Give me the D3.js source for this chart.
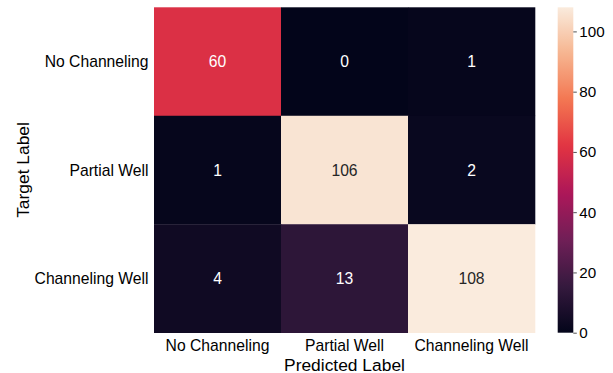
<!DOCTYPE html>
<html><head><meta charset="utf-8">
<script src="https://cdn.jsdelivr.net/npm/d3@7"></script>
<style>
html,body{margin:0;padding:0;background:#fff;}
text{font-family:"Liberation Sans",Arial,Helvetica,sans-serif;}
</style></head>
<body>
<svg id="chart" width="613" height="373"></svg>
<script>
const targetLabels = ["No Channeling", "Partial Well", "Channeling Well"];
const predictedLabels = ["No Channeling", "Partial Well", "Channeling Well"];
const rowNoChanneling = [60, 0, 1];
const rowPartialWell = [1, 106, 2];
const rowChannelingWell = [4, 13, 108];
const colorbarTicks = [0, 20, 40, 60, 80, 100];
const xTitle = "Predicted Label";
const yTitle = "Target Label";

const matrix = [rowNoChanneling, rowPartialWell, rowChannelingWell];
const cells = [];
matrix.forEach((row, i) => row.forEach((v, j) => cells.push({t: targetLabels[i], p: predictedLabels[j], v})));

// rocket colormap stops
const rocketStops = ["#03051a", "#35193e", "#701f57", "#ad1759", "#e13342", "#f37651", "#f6b48f", "#faebdd"];
const rocketPos = [0, 1/7, 2/7, 3/7, 4/7, 5/7, 6/7, 1];
const rocket = d3.scaleLinear().domain(rocketPos).range(rocketStops).interpolate(d3.interpolateRgb);

const vmin = 0, vmax = d3.max(cells, d => d.v);
const color = v => rocket((v - vmin) / (vmax - vmin));

const L = 154, R = 535, T = 7.3, B = 332.7;
const svg = d3.select("#chart");

const x = d3.scaleBand().domain(predictedLabels).range([L, R]);
const y = d3.scaleBand().domain(targetLabels).range([T, B]);

svg.append("g").selectAll("rect").data(cells).join("rect")
  .attr("x", d => x(d.p)).attr("y", d => y(d.t))
  .attr("width", x.bandwidth() + 0.3).attr("height", y.bandwidth() + 0.3)
  .attr("fill", d => color(d.v));

function lum(c) {
  const r = d3.rgb(c);
  const f = u => { u /= 255; return u <= 0.03928 ? u / 12.92 : Math.pow((u + 0.055) / 1.055, 2.4); };
  return 0.2126 * f(r.r) + 0.7152 * f(r.g) + 0.0722 * f(r.b);
}

svg.append("g").selectAll("text").data(cells).join("text")
  .attr("x", d => x(d.p) + x.bandwidth() / 2)
  .attr("y", d => y(d.t) + y.bandwidth() / 2)
  .attr("text-anchor", "middle").attr("dominant-baseline", "central")
  .attr("font-size", "15.7px")
  .attr("fill", d => lum(color(d.v)) > 0.408 ? "#262626" : "#ffffff")
  .text(d => d.v);

// x axis
const xAxis = svg.append("g").attr("transform", `translate(0,${B})`)
  .call(d3.axisBottom(x).tickSize(0).tickPadding(7));
xAxis.select(".domain").remove();
xAxis.selectAll("text").attr("font-size", "15.7px").attr("fill", "#000")
  .attr("font-family", "Liberation Sans, Arial, sans-serif");

// y axis
const yAxis = svg.append("g").attr("transform", `translate(${L},0)`)
  .call(d3.axisLeft(y).tickSize(0).tickPadding(5.5));
yAxis.select(".domain").remove();
yAxis.selectAll("text").attr("font-size", "15.7px").attr("fill", "#000").attr("dy", "0.35em")
  .attr("font-family", "Liberation Sans, Arial, sans-serif");

svg.append("text").attr("x", (L + R) / 2).attr("y", 370.5)
  .attr("text-anchor", "middle").attr("font-size", "17.4px").attr("fill", "#000").text(xTitle);
svg.append("text").attr("transform", `translate(28.5,${(T + B) / 2}) rotate(-90)`)
  .attr("text-anchor", "middle").attr("font-size", "17.4px").attr("fill", "#000").text(yTitle);

// colorbar
const CL = 557.7, CR = 573.3;
const cy = d3.scaleLinear().domain([vmin, vmax]).range([B, T]);
const defs = svg.append("defs");
const grad = defs.append("linearGradient").attr("id", "cbar").attr("x1", 0).attr("y1", 1).attr("x2", 0).attr("y2", 0);
d3.range(0, 1.0001, 0.02).forEach(t => grad.append("stop").attr("offset", t).attr("stop-color", rocket(t)));
svg.append("rect").attr("x", CL).attr("y", T).attr("width", CR - CL).attr("height", B - T).attr("fill", "url(#cbar)");

const cAxis = svg.append("g").attr("transform", `translate(${CR},0)`)
  .call(d3.axisRight(cy).tickValues(colorbarTicks).tickSize(3.5).tickPadding(2.5));
cAxis.select(".domain").remove();
cAxis.selectAll("line").attr("stroke", "#262626").attr("stroke-width", 0.8);
cAxis.selectAll("text").attr("font-size", "15.2px").attr("fill", "#000")
  .attr("font-family", "Liberation Sans, Arial, sans-serif");
</script>
</body></html>
